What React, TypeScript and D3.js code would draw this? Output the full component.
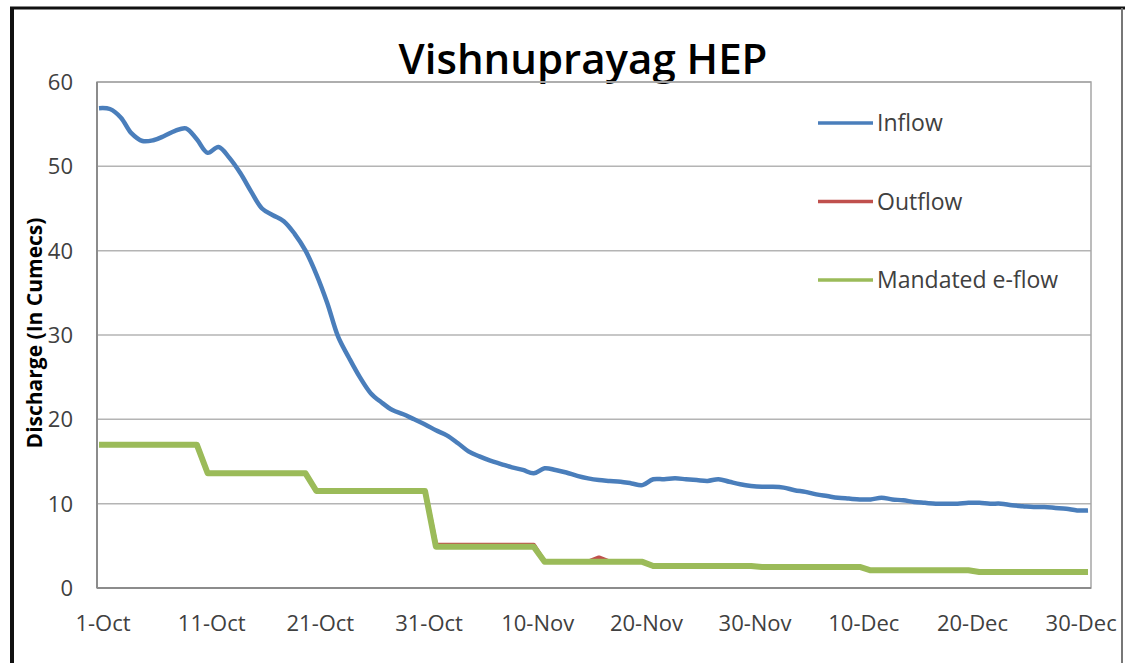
import React from 'react';
import * as d3 from 'd3';

// daily values, 1-Oct .. 31-Dec
const inflow = [
  56.9, 56.8, 55.8, 53.9, 53.0, 53.1, 53.6, 54.2, 54.5, 53.2,
  51.6, 52.3, 51.0, 49.2, 47.0, 45.0, 44.2, 43.5, 42.0, 40.0,
  37.2, 33.8, 29.8, 27.3, 25.0, 23.1, 22.0, 21.1, 20.6, 20.0,
  19.4, 18.7, 18.1, 17.2, 16.2, 15.6, 15.1, 14.7, 14.3, 14.0,
  13.6, 14.2, 14.0, 13.7, 13.3, 13.0, 12.8, 12.7, 12.6, 12.4,
  12.2, 12.9, 12.9, 13.0, 12.9, 12.8, 12.7, 12.9, 12.6, 12.3,
  12.1, 12.0, 12.0, 11.9, 11.6, 11.4, 11.1, 10.9, 10.7, 10.6,
  10.5, 10.5, 10.7, 10.5, 10.4, 10.2, 10.1, 10.0, 10.0, 10.0,
  10.1, 10.1, 10.0, 10.0, 9.8, 9.7, 9.6, 9.6, 9.5, 9.4,
  9.2, 9.2,
];

const outflow = [
  17.0, 17.0, 17.0, 17.0, 17.0, 17.0, 17.0, 17.0, 17.0, 17.0,
  13.6, 13.6, 13.6, 13.6, 13.6, 13.6, 13.6, 13.6, 13.6, 13.6,
  11.5, 11.5, 11.5, 11.5, 11.5, 11.5, 11.5, 11.5, 11.5, 11.5,
  11.5, 5.1, 5.1, 5.1, 5.1, 5.1, 5.1, 5.1, 5.1, 5.1,
  5.1, 3.1, 3.1, 3.1, 3.1, 3.1, 3.6, 3.1, 3.1, 3.1,
  3.1, 2.6, 2.6, 2.6, 2.6, 2.6, 2.6, 2.6, 2.6, 2.6,
  2.6, 2.5, 2.5, 2.5, 2.5, 2.5, 2.5, 2.5, 2.5, 2.5,
  2.5, 2.1, 2.1, 2.1, 2.1, 2.1, 2.1, 2.1, 2.1, 2.1,
  2.1, 1.9, 1.9, 1.9, 1.9, 1.9, 1.9, 1.9, 1.9, 1.9,
  1.9, 1.9,
];

const eflow = [
  17.0, 17.0, 17.0, 17.0, 17.0, 17.0, 17.0, 17.0, 17.0, 17.0,
  13.6, 13.6, 13.6, 13.6, 13.6, 13.6, 13.6, 13.6, 13.6, 13.6,
  11.5, 11.5, 11.5, 11.5, 11.5, 11.5, 11.5, 11.5, 11.5, 11.5,
  11.5, 4.9, 4.9, 4.9, 4.9, 4.9, 4.9, 4.9, 4.9, 4.9,
  4.9, 3.1, 3.1, 3.1, 3.1, 3.1, 3.1, 3.1, 3.1, 3.1,
  3.1, 2.6, 2.6, 2.6, 2.6, 2.6, 2.6, 2.6, 2.6, 2.6,
  2.6, 2.5, 2.5, 2.5, 2.5, 2.5, 2.5, 2.5, 2.5, 2.5,
  2.5, 2.1, 2.1, 2.1, 2.1, 2.1, 2.1, 2.1, 2.1, 2.1,
  2.1, 1.9, 1.9, 1.9, 1.9, 1.9, 1.9, 1.9, 1.9, 1.9,
  1.9, 1.9,
];

const xTickDays = [0, 10, 20, 30, 40, 50, 60, 70, 80, 90];
const xTickLabels = ['1-Oct', '11-Oct', '21-Oct', '31-Oct', '10-Nov', '20-Nov', '30-Nov', '10-Dec', '20-Dec', '30-Dec'];
const yTicks = [0, 10, 20, 30, 40, 50, 60];

const series = [
  { name: 'Inflow', values: inflow, color: '#4A7EBB', width: 4.5, smooth: true },
  { name: 'Outflow', values: outflow, color: '#C0504D', width: 4.5, smooth: false },
  { name: 'Mandated e-flow', values: eflow, color: '#9BBB59', width: 6, smooth: false },
];

const W = 1125;
const H = 663;
const plot = { left: 97, top: 82, right: 1091, bottom: 588 };
const FONT = "'Open Sans', sans-serif";

const App = () => {
  const x = d3.scaleLinear().domain([0, inflow.length - 1]).range([99, 1088]);
  const y = d3.scaleLinear().domain([0, 60]).range([plot.bottom, plot.top]);

  const makeLine = (smooth: boolean) =>
    d3.line<number>()
      .x((_, i) => x(i))
      .y(d => y(d))
      .curve(smooth ? d3.curveCatmullRom.alpha(0.5) : d3.curveLinear);

  return (
    <svg width={W} height={H} style={{ position: 'absolute', left: 0, top: 0, background: '#fff' }}>
      {/* outer frame */}
      <line x1={12} y1={7} x2={12} y2={H} stroke="#111" strokeWidth={4} />
      <line x1={10} y1={8} x2={W} y2={8} stroke="#111" strokeWidth={3} />
      <line x1={1122} y1={8} x2={1122} y2={H} stroke="#777" strokeWidth={2} />

      <text x={583} y={74} textAnchor="middle" fontFamily={FONT} fontWeight={600} fontSize={42} fill="#000">
        Vishnuprayag HEP
      </text>

      {/* gridlines */}
      {yTicks.map(t => (
        <line key={t} x1={plot.left} x2={plot.right} y1={y(t)} y2={y(t)} stroke="#B4B4B4" strokeWidth={1.5} />
      ))}
      <rect x={plot.left} y={plot.top} width={plot.right - plot.left} height={plot.bottom - plot.top}
        fill="none" stroke="#A6A6A6" strokeWidth={1.5} />
      <line x1={plot.left} x2={plot.left} y1={plot.top} y2={plot.bottom} stroke="#8C8C8C" strokeWidth={2} />
      <line x1={plot.left} x2={plot.right} y1={plot.bottom} y2={plot.bottom} stroke="#8C8C8C" strokeWidth={2} />

      {/* y tick labels */}
      {yTicks.map(t => (
        <text key={t} x={73} y={y(t)} dy="0.36em" textAnchor="end" fontFamily={FONT} fontSize={22} fill="#404040">
          {t}
        </text>
      ))}

      {/* x tick labels */}
      {xTickDays.map((d, i) => (
        <text key={d} x={x(d) + 4} y={631} textAnchor="middle" fontFamily={FONT} fontSize={22} fill="#404040">
          {xTickLabels[i]}
        </text>
      ))}

      <text transform={`translate(42,333) rotate(-90)`} textAnchor="middle" fontFamily={FONT}
        fontWeight="bold" fontSize={21} fill="#000">
        Discharge (In Cumecs)
      </text>

      {/* series */}
      {series.map(s => (
        <path key={s.name} d={makeLine(s.smooth)(s.values) || ''} fill="none" stroke={s.color}
          strokeWidth={s.width} strokeLinejoin="round" strokeLinecap="butt" />
      ))}

      {/* legend */}
      {series.map((s, i) => {
        const ly = 123 + i * 78.5;
        return (
          <g key={s.name}>
            <line x1={818} x2={873} y1={ly} y2={ly} stroke={s.color} strokeWidth={3.5} />
            <text x={877} y={ly} dy="0.36em" fontFamily={FONT} fontSize={23} fill="#404040">
              {s.name}
            </text>
          </g>
        );
      })}
    </svg>
  );
};

export default App;
